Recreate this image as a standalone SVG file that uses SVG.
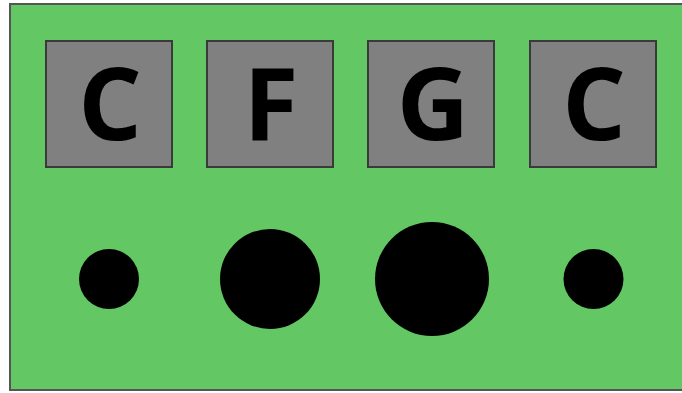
<svg xmlns="http://www.w3.org/2000/svg" width="682" height="393" viewBox="0 0 682 393">
<style>
.box{fill:#808080;stroke:#3a3a3a;stroke-width:2}
.lbl{font-family:"Open Sans","Liberation Sans",sans-serif;font-weight:bold;font-size:100px;fill:#000;text-anchor:middle}
.dot{fill:#000}
</style>
<rect id="board" x="10" y="4" width="700" height="386" fill="#63c864" stroke="#555" stroke-width="2"/>
<g id="key1"><rect class="box" x="46" y="41" width="126" height="126"/><text class="lbl" x="110" y="140">C</text></g>
<g id="key2"><rect class="box" x="207" y="41" width="126" height="126"/><text class="lbl" x="271" y="140">F</text></g>
<g id="key3"><rect class="box" x="368" y="41" width="126" height="126"/><text class="lbl" x="433" y="140">G</text></g>
<g id="key4"><rect class="box" x="530" y="41" width="126" height="126"/><text class="lbl" x="594" y="140">C</text></g>
<g id="hole1"><circle class="dot" cx="109" cy="279" r="30"/></g>
<g id="hole2"><circle class="dot" cx="270" cy="279" r="50"/></g>
<g id="hole3"><circle class="dot" cx="432" cy="279" r="57"/></g>
<g id="hole4"><circle class="dot" cx="593.5" cy="279" r="30"/></g>
<g id="connectors"></g>
</svg>
